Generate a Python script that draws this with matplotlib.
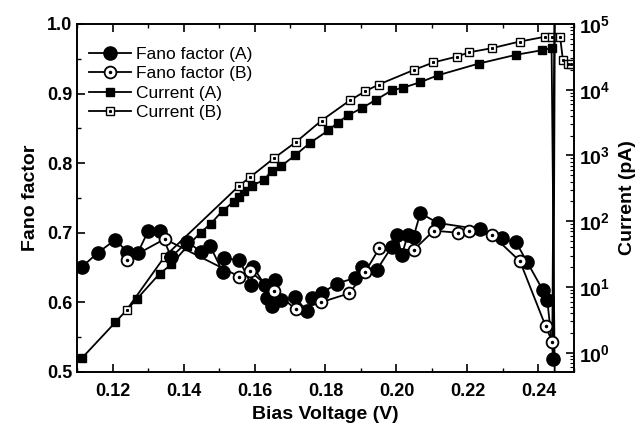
import math
import matplotlib
matplotlib.use('Agg')
import matplotlib.pyplot as plt
from matplotlib.ticker import MultipleLocator, LogLocator, FuncFormatter, NullFormatter
from matplotlib.legend_handler import HandlerTuple

plt.rcParams['font.family'] = ['Liberation Sans', 'DejaVu Sans']
plt.rcParams['mathtext.fontset'] = 'custom'
plt.rcParams['mathtext.bf'] = 'Liberation Sans:bold'
plt.rcParams['mathtext.rm'] = 'Liberation Sans:bold'

# Fano factor, sample A (filled circles)
fano_a_v = [0.1114, 0.1158, 0.1208, 0.1240, 0.1271, 0.1300, 0.1335, 0.1365, 0.1411,
            0.1448, 0.1475, 0.1510, 0.1514, 0.1557, 0.1591, 0.1596, 0.1629, 0.1634,
            0.1648, 0.1657, 0.1676, 0.1714, 0.1747, 0.1761, 0.1789, 0.1832, 0.1883,
            0.1902, 0.1945, 0.1987, 0.2001, 0.2015, 0.2032, 0.2048, 0.2067, 0.2117,
            0.2234, 0.2296, 0.2337, 0.2368, 0.2413, 0.2425, 0.2442, 0.2447]
fano_a = [0.651, 0.671, 0.690, 0.673, 0.671, 0.702, 0.702, 0.665, 0.687,
          0.673, 0.681, 0.644, 0.663, 0.661, 0.625, 0.651, 0.625, 0.606,
          0.594, 0.632, 0.603, 0.608, 0.587, 0.606, 0.613, 0.627, 0.635,
          0.651, 0.647, 0.680, 0.697, 0.668, 0.697, 0.694, 0.728, 0.714,
          0.705, 0.692, 0.686, 0.658, 0.617, 0.603, 0.519, 1.10]

# Fano factor, sample B (open circles)
fano_b_v = [0.1240, 0.1347, 0.1557, 0.1587, 0.1654, 0.1717, 0.1787, 0.1867, 0.1911,
            0.1952, 0.2048, 0.2105, 0.2173, 0.2205, 0.2269, 0.2348, 0.2420, 0.2439,
            0.2446]
fano_b = [0.661, 0.691, 0.637, 0.645, 0.616, 0.590, 0.600, 0.613, 0.643,
          0.678, 0.675, 0.703, 0.700, 0.702, 0.697, 0.659, 0.566, 0.543,
          1.10]

# Current, sample A (filled squares), pA
cur_a_v = [0.1114, 0.1208, 0.1269, 0.1333, 0.1366, 0.1411, 0.1448, 0.1477, 0.1510,
           0.1541, 0.1557, 0.1571, 0.1592, 0.1627, 0.1648, 0.1676, 0.1714, 0.1756,
           0.1808, 0.1834, 0.1863, 0.1902, 0.1943, 0.1987, 0.2018, 0.2067, 0.2117,
           0.2232, 0.2337, 0.2411, 0.2437, 0.2447]
cur_a = [0.83, 2.9, 6.6, 16, 22, 42, 67, 92, 144,
         197, 230, 290, 347, 424, 585, 697, 1000, 1550,
         2400, 3150, 4060, 5250, 7050, 9800, 10700, 13000, 16600,
         25000, 34000, 40000, 43000, 0.1]

# Current, sample B (open squares), pA
cur_b_v = [0.1240, 0.1347, 0.1557, 0.1587, 0.1655, 0.1718, 0.1789, 0.1869, 0.1911,
           0.1950, 0.2049, 0.2104, 0.2171, 0.2204, 0.2270, 0.2347, 0.2419, 0.2439,
           0.2461, 0.2469, 0.2484, 0.2493]
cur_b = [4.5, 29, 347, 465, 910, 1620, 3400, 6900, 9400,
         12000, 20000, 26000, 32000, 37000, 43000, 54000, 64000, 64000,
         64000, 28000, 25000, 24500]

fig = plt.figure(figsize=(6.42, 4.36), dpi=100)
ax = fig.add_axes([0.12, 0.147, 0.774, 0.798])
ax2 = ax.twinx()
ax.set_zorder(2)
ax.patch.set_visible(False)

lw = 1.3
# currents on the log axis
ca, = ax2.plot(cur_a_v, cur_a, '-', color='black', lw=lw, marker='s', ms=5.5,
               mfc='black', mec='black')
cb, = ax2.plot(cur_b_v, cur_b, '-', color='black', lw=lw, marker='s', ms=6,
               mfc='white', mec='black', mew=1.0)
cbd, = ax2.plot(cur_b_v, cur_b, ls='none', marker='s', ms=1.2, mfc='black', mec='black')

# fano factors
fa, = ax.plot(fano_a_v, fano_a, '-', color='black', lw=lw, marker='o', ms=9.5,
              mfc='black', mec='black')
fb, = ax.plot(fano_b_v, fano_b, '-', color='black', lw=lw, marker='o', ms=8.5,
              mfc='white', mec='black', mew=1.3)
fbd, = ax.plot(fano_b_v, fano_b, ls='none', marker='o', ms=1.5, mfc='black', mec='black')

ax.set_xlim(0.11, 0.25)
ax.set_ylim(0.5, 1.0)
ax2.set_yscale('log')
ax2.set_ylim(0.51, 1e5)

ax.xaxis.set_major_locator(MultipleLocator(0.02))
ax.xaxis.set_minor_locator(MultipleLocator(0.01))
ax.yaxis.set_major_locator(MultipleLocator(0.1))
ax.yaxis.set_minor_locator(MultipleLocator(0.05))
ax.xaxis.set_major_formatter(FuncFormatter(lambda v, p: '%.2f' % v))
ax.yaxis.set_major_formatter(FuncFormatter(lambda v, p: '%.1f' % v))

ax2.yaxis.set_major_locator(LogLocator(base=10, numticks=10))
ax2.yaxis.set_minor_locator(LogLocator(base=10, subs=range(2, 10), numticks=20))
ax2.yaxis.set_minor_formatter(NullFormatter())
ax2.yaxis.set_major_formatter(FuncFormatter(lambda v, p: r'$\mathbf{10^{%d}}$' % round(math.log10(v))))

ax.tick_params(axis='both', which='major', direction='in', length=6, width=1.2,
               labelsize=13, top=True, right=False)
ax.tick_params(axis='both', which='minor', direction='in', length=3, width=1.0,
               top=True, right=False)
ax.tick_params(axis='x', pad=8)
ax2.tick_params(axis='y', which='major', direction='in', length=6, width=1.2, labelsize=14)
ax2.tick_params(axis='y', which='minor', direction='in', length=3, width=0.8)
for lab in ax.get_xticklabels() + ax.get_yticklabels():
    lab.set_fontweight('bold')

for sp in ax.spines.values():
    sp.set_linewidth(1.2)
for sp in ax2.spines.values():
    sp.set_linewidth(1.2)

ax.set_xlabel('Bias Voltage (V)', fontsize=14, fontweight='bold', labelpad=4)
ax.set_ylabel('Fano factor', fontsize=14, fontweight='bold', labelpad=6)
ax2.set_ylabel('Current (pA)', fontsize=14, fontweight='bold', labelpad=6)

ax.legend([(fa,), (fb, fbd), (ca,), (cb, cbd)],
          ['Fano factor (A)', 'Fano factor (B)', 'Current (A)', 'Current (B)'],
          handler_map={tuple: HandlerTuple(ndivide=1, pad=0)},
          loc='upper left', bbox_to_anchor=(0.0, 0.97), frameon=False, fontsize=12.5,
          handlelength=2.4, handletextpad=0.3, labelspacing=0.25, borderaxespad=0.3)

fig.savefig('out.png', dpi=100)
